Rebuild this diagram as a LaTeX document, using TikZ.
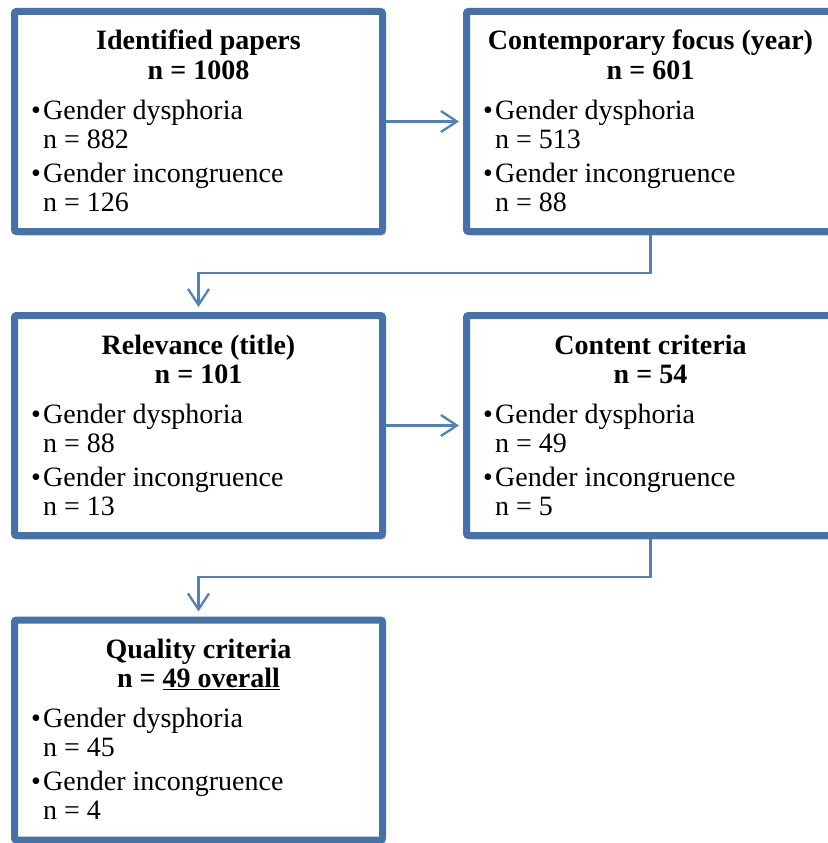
\documentclass[tikz,border=0pt]{standalone}
\usepackage{fontspec}
\setmainfont{Liberation Serif}
\usetikzlibrary{arrows.meta,shadows}

\definecolor{boxblue}{RGB}{70,114,168}
\definecolor{lineblue}{RGB}{79,129,189}

\begin{document}
\begin{tikzpicture}[x=1pt,y=-1pt,
    font=\fontsize{28}{29}\selectfont,
    stagebox/.style={draw=boxblue,line width=7pt,fill=white,outer sep=3.5pt,inner sep=0pt,
      minimum width=368pt,minimum height=220pt,rounded corners=2pt,
      drop shadow={shadow xshift=3pt,shadow yshift=-4pt,opacity=0.3,fill=black!60}},
    headline/.style={anchor=base,inner sep=0pt,font=\fontsize{28}{29}\selectfont\bfseries},
    itemline/.style={anchor=base west,inner sep=0pt},
    dotline/.style={anchor=base,inner sep=0pt},
    flowline/.style={draw=lineblue,line width=2.3pt,-{Straight Barb[length=16pt,width=21pt]}}]
  \useasboundingbox (0,0) rectangle (827,843);

  % the five stages
  \foreach \name/\x/\y/\head/\num/\gd/\gi in {
      ident/198.5/121.5/Identified papers/1008/882/126,
      contemp/650.5/121.5/Contemporary focus (year)/601/513/88,
      relev/198.5/425.5/Relevance (title)/101/88/13,
      content/650.5/425.5/Content criteria/54/49/5,
      quality/198.5/730/Quality criteria/{\underline{49 overall}}/45/4}{
    \node[stagebox] (\name) at (\x,\y) {};
    \node[headline] (\name-head) at ([shift={(0,42)}]\name.north) {\head};
    \node[headline] (\name-num) at ([shift={(0,71)}]\name.north) {n = \num};
    \node[dotline] (\name-dot1) at ([shift={(25,111)}]\name.north west) {\textbullet};
    \node[itemline] (\name-gd) at ([shift={(32,111)}]\name.north west) {Gender dysphoria};
    \node[itemline] (\name-gdn) at ([shift={(32,140)}]\name.north west) {n = \gd};
    \node[dotline] (\name-dot2) at ([shift={(25,174)}]\name.north west) {\textbullet};
    \node[itemline] (\name-gi) at ([shift={(32,174)}]\name.north west) {Gender incongruence};
    \node[itemline] (\name-gin) at ([shift={(32,203)}]\name.north west) {n = \gi};
  }

  % connectors
  \draw[flowline,shorten >=4pt] (ident.east) -- (contemp.west);
  \draw[flowline,shorten >=5pt] (contemp.south) -- ++(0,38) -| (relev.north);
  \draw[flowline,shorten >=4pt] (relev.east) -- (content.west);
  \draw[flowline,shorten >=5pt] (content.south) -- ++(0,38) -| (quality.north);
\end{tikzpicture}
\end{document}
